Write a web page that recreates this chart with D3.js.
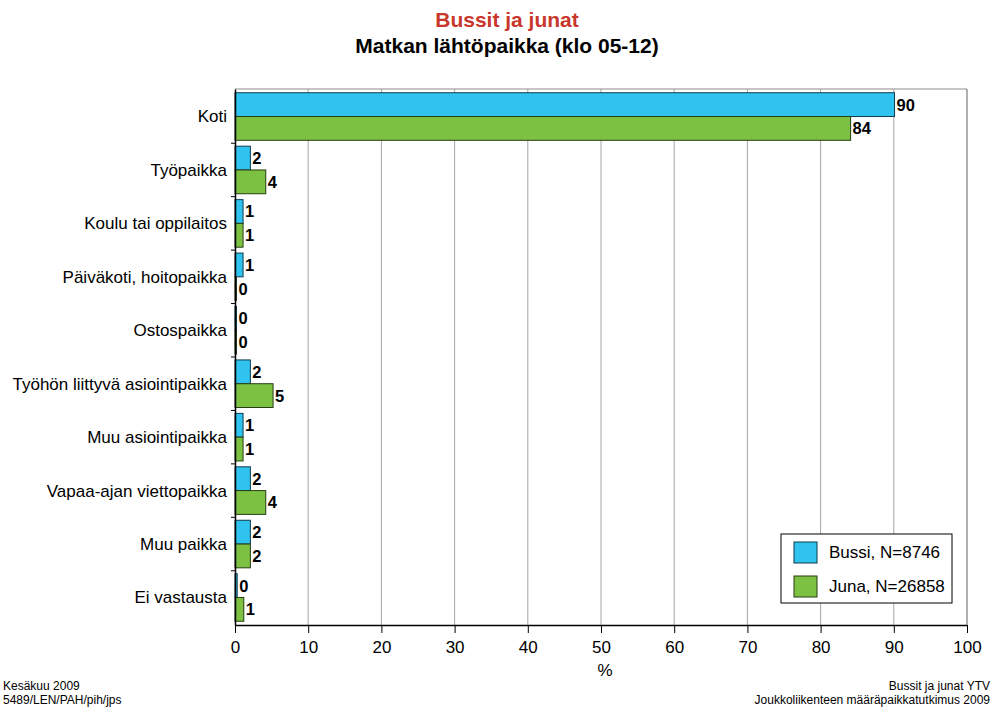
<!DOCTYPE html>
<html>
<head>
<meta charset="utf-8">
<script src="https://cdn.jsdelivr.net/npm/d3@7"></script>
<style>
  body { margin: 0; background: #fff; }
  text { font-family: "Liberation Sans", Arial, sans-serif; }
</style>
</head>
<body>
<svg id="chart"></svg>
<script>
const categories = [
    "Koti", "Työpaikka", "Koulu tai oppilaitos", "Päiväkoti, hoitopaikka",
    "Ostospaikka", "Työhön liittyvä asiointipaikka", "Muu asiointipaikka",
    "Vapaa-ajan viettopaikka", "Muu paikka", "Ei vastausta"
];
const seriesNames = ["Bussi, N=8746", "Juna, N=26858"];
// bar lengths as drawn (slightly unrounded) and printed labels
const bussiValues = [90.1, 2.1, 1.1, 1.1, 0.2, 2.1, 1.1, 2.1, 2.1, 0.3];
const junaValues = [84.1, 4.2, 1.1, 0.2, 0.2, 5.2, 1.1, 4.2, 2.1, 1.2];
const bussiLabels = [90, 2, 1, 1, 0, 2, 1, 2, 2, 0];
const junaLabels = [84, 4, 1, 0, 0, 5, 1, 4, 2, 1];
const xTicks = [0, 10, 20, 30, 40, 50, 60, 70, 80, 90, 100];
const colors = ["#31c3f0", "#7cc142"];

const W = 995, H = 709;
const margin = { top: 89, right: 28, bottom: 84, left: 235 };
const width = W - margin.left - margin.right;
const height = H - margin.top - margin.bottom;

const svg = d3.select("#chart").attr("width", W).attr("height", H);

svg.append("text")
    .attr("x", 507).attr("y", 27)
    .attr("text-anchor", "middle")
    .style("font-size", "21px").style("font-weight", "bold")
    .attr("fill", "#c9372c")
    .text("Bussit ja junat");
svg.append("text")
    .attr("x", 507).attr("y", 53)
    .attr("text-anchor", "middle")
    .style("font-size", "21px").style("font-weight", "bold")
    .text("Matkan lähtöpaikka (klo 05-12)");

const g = svg.append("g").attr("transform", `translate(${margin.left},${margin.top})`);

const x = d3.scaleLinear().domain([0, 100]).range([0, width]);
const y = d3.scaleBand().domain(categories).range([0, height]).paddingInner(0.11).paddingOuter(0.07);
const ySub = d3.scaleBand().domain([0, 1]).range([0, y.bandwidth()]);

// grid
g.append("g").selectAll("line")
    .data(xTicks.slice(1))
    .join("line")
    .attr("x1", d => x(d)).attr("x2", d => x(d))
    .attr("y1", 0).attr("y2", height)
    .attr("stroke", "#a6a6a6").attr("stroke-width", 1);
g.append("line")
    .attr("x1", 0).attr("x2", width).attr("y1", 0).attr("y2", 0)
    .attr("stroke", "#8c8c8c");

const data = categories.map((c, i) => ({
    cat: c,
    vals: [bussiValues[i], junaValues[i]],
    labs: [bussiLabels[i], junaLabels[i]]
}));

const groups = g.append("g").selectAll("g")
    .data(data)
    .join("g")
    .attr("transform", d => `translate(0,${y(d.cat)})`);

groups.selectAll("rect")
    .data(d => d.vals.map((v, k) => ({ v, k })))
    .join("rect")
    .attr("x", 0)
    .attr("y", d => ySub(d.k))
    .attr("width", d => x(d.v))
    .attr("height", ySub.bandwidth())
    .attr("fill", d => colors[d.k])
    .attr("stroke", d => d.k === 0 ? "#0d3b4d" : "#263d12")
    .attr("stroke-width", 1);

groups.selectAll("text.val")
    .data(d => d.vals.map((v, k) => ({ v, k, lab: d.labs[k] })))
    .join("text")
    .attr("class", "val")
    .attr("x", d => x(d.v) + 2)
    .attr("y", d => ySub(d.k) + ySub.bandwidth() / 2 + 6)
    .style("font-size", "16.5px").style("font-weight", "bold")
    .text(d => d.lab);

// y axis
const yAxis = g.append("g")
    .call(d3.axisLeft(y).tickSize(0).tickPadding(8));
yAxis.select(".domain").attr("stroke", "#000").attr("stroke-width", 1.5);
yAxis.selectAll("text").style("font-size", "17px").attr("fill", "#000")
    .attr("dy", "0.35em");
// category separator ticks
g.append("g").selectAll("line")
    .data(categories.slice(1))
    .join("line")
    .attr("x1", -4).attr("x2", 0)
    .attr("y1", d => y(d) - y.step() * y.paddingInner() / 2)
    .attr("y2", d => y(d) - y.step() * y.paddingInner() / 2)
    .attr("stroke", "#000");

// x axis
const xAxis = g.append("g")
    .attr("transform", `translate(0,${height})`)
    .call(d3.axisBottom(x).tickValues(xTicks).tickSize(8).tickPadding(8).tickSizeOuter(0));
xAxis.select(".domain").attr("stroke", "#000").attr("stroke-width", 1.5);
xAxis.selectAll("text").style("font-size", "17px").attr("fill", "#000");

g.append("line")
    .attr("x1", width).attr("x2", width).attr("y1", 0).attr("y2", height)
    .attr("stroke", "#8c8c8c");

svg.append("text")
    .attr("x", 605).attr("y", 676)
    .attr("text-anchor", "middle")
    .style("font-size", "17px")
    .text("%");

// legend
const legend = svg.append("g").attr("transform", "translate(781,534)");
legend.append("rect")
    .attr("width", 171).attr("height", 69)
    .attr("fill", "#fff").attr("stroke", "#000").attr("stroke-width", 1);
seriesNames.forEach((name, k) => {
    legend.append("rect")
        .attr("x", 13).attr("y", 8 + k * 34)
        .attr("width", 23).attr("height", 21)
        .attr("fill", colors[k])
        .attr("stroke", k === 0 ? "#0d3b4d" : "#263d12");
    legend.append("text")
        .attr("x", 48).attr("y", 24 + k * 34)
        .style("font-size", "17px")
        .text(name);
});

// footer
const footL = ["Kesäkuu 2009", "5489/LEN/PAH/pih/jps"];
const footR = ["Bussit ja junat YTV", "Joukkoliikenteen määräpaikkatutkimus 2009"];
footL.forEach((t, i) => svg.append("text")
    .attr("x", 3).attr("y", 690 + i * 14)
    .style("font-size", "12px").text(t));
footR.forEach((t, i) => svg.append("text")
    .attr("x", 990).attr("y", 690 + i * 14)
    .attr("text-anchor", "end")
    .style("font-size", "12px").text(t));
</script>
</body>
</html>
